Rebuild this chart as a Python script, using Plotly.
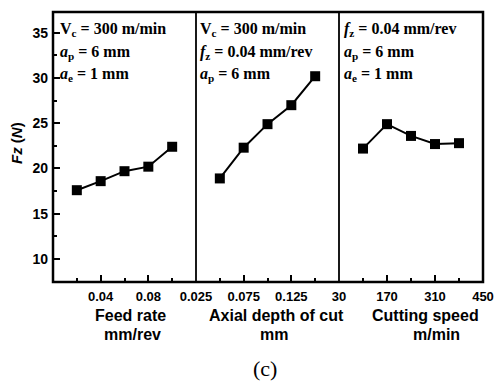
import plotly.graph_objects as go

# ---- data ----
feed_rate = [0.02, 0.04, 0.06, 0.08, 0.10]
fz_feed = [17.6, 18.6, 19.7, 20.2, 22.4]
axial_depth = [0.05, 0.075, 0.10, 0.125, 0.15]
fz_depth = [18.9, 22.3, 24.9, 27.0, 30.2]
cutting_speed = [100, 170, 240, 310, 380]
fz_speed = [22.2, 24.9, 23.6, 22.7, 22.8]

feed_ticks = [0.04, 0.08]
feed_minor = [0.02, 0.06, 0.10]
depth_ticks = [0.025, 0.075, 0.125]
depth_minor = [0.05, 0.10, 0.15]
speed_ticks = [30, 170, 310, 450]
speed_minor = [100, 240, 380]
y_ticks = [10, 15, 20, 25, 30, 35]
y_minor = [12.5, 17.5, 22.5, 27.5, 32.5]

OFF = 8  # page body margin
W, H = 502 - OFF, 382 - OFF
L, R, T, B = 53 - OFF, 19, 12 - OFF, 100
PW, PH = W - L - R, H - T - B

def pxx(x):
    return (x - OFF - L) / PW

def pxy(y):
    return (H - B - (y - OFF)) / PH

SANS = "Liberation Sans, Arial, sans-serif"
SERIF = "Liberation Serif, Times New Roman, serif"

d1 = [0, pxx(196)]
d2 = [pxx(196), pxx(339)]
d3 = [pxx(339), 1]

fig = go.Figure()
mk = dict(symbol="square", size=10, color="black")
ln = dict(color="black", width=2)
fig.add_trace(go.Scatter(x=feed_rate, y=fz_feed, mode="lines+markers", marker=mk, line=ln, xaxis="x", yaxis="y"))
fig.add_trace(go.Scatter(x=axial_depth, y=fz_depth, mode="lines+markers", marker=mk, line=ln, xaxis="x2", yaxis="y2"))
fig.add_trace(go.Scatter(x=cutting_speed, y=fz_speed, mode="lines+markers", marker=mk, line=ln, xaxis="x3", yaxis="y3"))

xcommon = dict(ticks="inside", ticklen=7, tickwidth=2, tickcolor="black",
               showgrid=False, zeroline=False, showline=False,
               tickfont=dict(family=SANS, size=13, color="black", weight="bold"),
               ticklabelstandoff=5)
minor_common = dict(ticks="inside", ticklen=4, tickwidth=2, tickcolor="black", showgrid=False)

ycommon = dict(range=[7.45, 37.3], showgrid=False, zeroline=False, showline=False)

fig.update_layout(
    width=W, height=H,
    margin=dict(l=L, r=R, t=T, b=B),
    paper_bgcolor="white", plot_bgcolor="white",
    showlegend=False,
    xaxis=dict(domain=d1, range=[0, 0.12], tickmode="array", tickvals=feed_ticks,
               ticktext=["0.04", "0.08"], minor=dict(tickvals=feed_minor, **minor_common),
               anchor="y", **xcommon),
    xaxis2=dict(domain=d2, range=[0.025, 0.175], tickmode="array", tickvals=depth_ticks,
                ticktext=["0.025", "0.075", "0.125"], minor=dict(tickvals=depth_minor, **minor_common),
                anchor="y2", **xcommon),
    xaxis3=dict(domain=d3, range=[30, 450], tickmode="array", tickvals=speed_ticks,
                ticktext=[str(v) for v in speed_ticks], minor=dict(tickvals=speed_minor, **minor_common),
                anchor="y3", **xcommon),
    yaxis=dict(anchor="x", tickmode="array", tickvals=y_ticks, ticks="inside", ticklen=7, tickwidth=2,
               tickcolor="black", ticklabelstandoff=4,
               tickfont=dict(family=SANS, size=14, color="black", weight="bold"),
               minor=dict(tickvals=y_minor, **minor_common), **ycommon),
    yaxis2=dict(anchor="x2", showticklabels=False, ticks="", matches="y", **ycommon),
    yaxis3=dict(anchor="x3", showticklabels=False, ticks="", matches="y", **ycommon),
)

# frame and dividers
fig.add_shape(type="rect", xref="paper", yref="paper", x0=0, x1=1, y0=0, y1=1,
              line=dict(color="black", width=2.5), layer="above")
for xd in (d1[1], d2[1]):
    fig.add_shape(type="line", xref="paper", yref="paper", x0=xd, x1=xd, y0=0, y1=1,
                  line=dict(color="black", width=1.8), layer="above")

def note(text, x, y, font, size, xanchor="left", angle=0):
    fig.add_annotation(text=text, xref="paper", yref="paper", x=pxx(x), y=pxy(y),
                       xanchor=xanchor, yanchor="middle", showarrow=False, textangle=angle,
                       font=dict(family=font, size=size, color="black"))

cond1 = ["<b>V<sub>c</sub> = 300 m/min</b>", "<b><i>a</i><sub>p</sub> = 6 mm</b>", "<b><i>a</i><sub>e</sub> = 1 mm</b>"]
cond2 = ["<b>V<sub>c</sub> = 300 m/min</b>", "<b><i>f</i><sub>z</sub> = 0.04 mm/rev</b>", "<b><i>a</i><sub>p</sub> = 6 mm</b>"]
cond3 = ["<b><i>f</i><sub>z</sub> = 0.04 mm/rev</b>", "<b><i>a</i><sub>p</sub> = 6 mm</b>", "<b><i>a</i><sub>e</sub> = 1 mm</b>"]
for x0, lines in ((58, cond1), (198, cond2), (342, cond3)):
    for i, t in enumerate(lines):
        note(t, x0, 29 + 23 * i, SERIF, 16)

# axis titles
note("<b>Feed rate</b>", 130, 315, SANS, 16, "center")
note("<b>mm/rev</b>", 132, 334, SANS, 16, "center")
note("<b>Axial depth of cut</b>", 276, 315, SANS, 16, "center")
note("<b>mm</b>", 274, 334, SANS, 16, "center")
note("<b>Cutting speed</b>", 425, 315, SANS, 16, "center")
note("<b>m/min</b>", 436, 334, SANS, 16, "center")
note("<b><i>Fz</i> (<i>N</i>)</b>", 16, 143, SANS, 15, "center", -90)
note("(c)", 265, 368, SERIF, 22, "center")

fig.write_html("out.html")
